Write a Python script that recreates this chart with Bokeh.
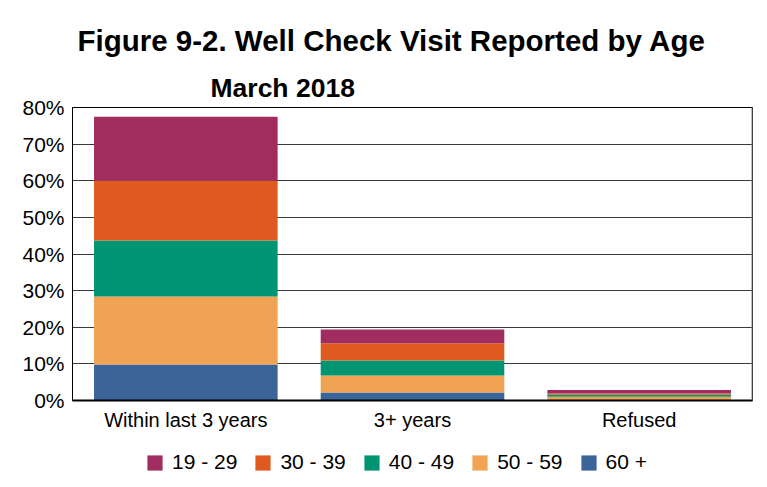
from bokeh.plotting import figure
from bokeh.layouts import column
from bokeh.models import (FactorRange, Range1d, FixedTicker, Legend, LegendItem,
                          Title, Span, ColumnDataSource)
from bokeh.embed import file_html
from bokeh.resources import INLINE

# ---- data (percent of respondents) ----
categories = ["Within last 3 years", "3+ years", "Refused"]
age_groups = ["19 - 29", "30 - 39", "40 - 49", "50 - 59", "60 +"]
age_19_29 = [17.4, 3.8, 1.0]
age_30_39 = [16.4, 4.7, 0.3]
age_40_49 = [15.3, 4.1, 0.55]
age_50_59 = [18.6, 4.6, 0.9]
age_60_plus = [9.8, 2.2, 0.15]
y_ticks = [0, 10, 20, 30, 40, 50, 60, 70, 80]
y_tick_labels = ["0%", "10%", "20%", "30%", "40%", "50%", "60%", "70%", "80%"]

title_text = "Figure 9-2. Well Check Visit Reported by Age"
subtitle_text = "March 2018"

colors = {"19 - 29": "#A12D60", "30 - 39": "#DE5A20", "40 - 49": "#009572",
          "50 - 59": "#EFA353", "60 +": "#3B6599"}

series = {"19 - 29": age_19_29, "30 - 39": age_30_39, "40 - 49": age_40_49,
          "50 - 59": age_50_59, "60 +": age_60_plus}

FONT = "Liberation Sans"

source = ColumnDataSource(dict(cat=categories, **{k: v for k, v in series.items()}))
stack_order = ["60 +", "50 - 59", "40 - 49", "30 - 39", "19 - 29"]

p = figure(width=767, height=447, output_backend="svg", toolbar_location=None,
           x_range=FactorRange(*categories), y_range=Range1d(0, 80),
           min_border_left=72, min_border_right=15, min_border_top=107,
           min_border_bottom=47, title=title_text)

p.vbar_stack(stack_order, x="cat", width=0.81, source=source,
             color=[colors[k] for k in stack_order], line_width=0)

# titles
p.title.text_font = FONT
p.title.text_font_size = "29.5px"
p.title.text_font_style = "bold"
p.title.align = "left"
p.title.offset = 5
p.title.standoff = 20
p.title.text_color = "black"
sub = Title(text=subtitle_text, text_font=FONT, text_font_size="26.5px",
            text_font_style="bold", align="left", offset=138, text_color="black",
            standoff=9)
p.add_layout(sub, "above")

# axes
p.yaxis.ticker = FixedTicker(ticks=y_ticks)
p.yaxis.major_label_overrides = dict(zip(y_ticks, y_tick_labels))
p.yaxis.major_label_text_font = FONT
p.yaxis.major_label_text_font_size = "21px"
p.yaxis.major_label_text_color = "black"
p.yaxis.major_tick_line_color = None
p.yaxis.minor_tick_line_color = None
p.yaxis.axis_line_color = "black"
p.yaxis.major_label_standoff = 2

p.xaxis.major_label_text_font = FONT
p.xaxis.major_label_text_font_size = "20px"
p.xaxis.major_label_text_color = "black"
p.xaxis.major_tick_line_color = None
p.xaxis.axis_line_color = "black"
p.xaxis.axis_line_width = 2
p.xaxis.major_label_standoff = 2

p.xgrid.grid_line_color = None
p.ygrid.grid_line_color = "#3a3a3a"
p.ygrid.grid_line_width = 1

p.outline_line_color = "black"
p.outline_line_width = 1
p.add_layout(Span(location=3, dimension="height", line_color="#808080", line_width=2))
p.background_fill_color = "white"
p.border_fill_color = "white"

# ---- legend strip (separate figure so the legend is not clipped) ----
lg = figure(width=767, height=40, output_backend="svg", toolbar_location=None,
            x_range=FactorRange(*categories), y_range=Range1d(1000, 1001),
            min_border=0)
lg.axis.visible = False
lg.grid.visible = False
lg.outline_line_color = None
lg_renderers = lg.vbar_stack(stack_order, x="cat", width=0.81, source=source,
                             color=[colors[k] for k in stack_order], line_width=0)
rmap = dict(zip(stack_order, lg_renderers))
legend = Legend(items=[LegendItem(label=k, renderers=[rmap[k]]) for k in age_groups],
                orientation="horizontal", location=(73, 13),
                label_text_font=FONT, label_text_font_size="21px",
                label_text_color="black",
                glyph_width=19, glyph_height=19, label_standoff=8, spacing=16,
                padding=0, margin=0, border_line_color=None,
                background_fill_alpha=0)
lg.add_layout(legend, "center")

layout = column(p, lg, spacing=0)

open("out.html", "w").write(file_html(layout, INLINE))
